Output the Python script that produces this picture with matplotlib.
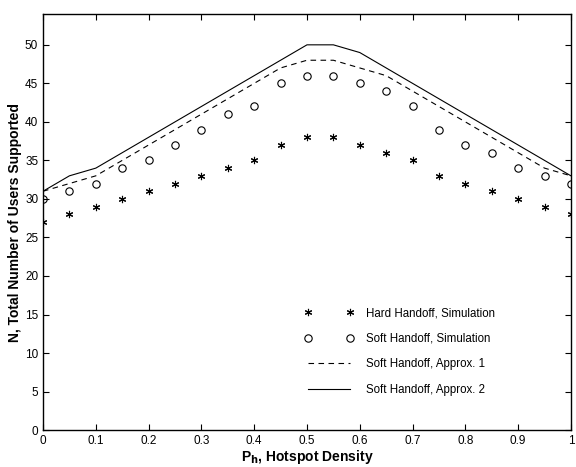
import numpy as np
import matplotlib
matplotlib.use('Agg')
import matplotlib.pyplot as plt

plt.rcParams['font.family'] = ['Liberation Sans', 'DejaVu Sans']

# hotspot density
ph = [0.0, 0.05, 0.1, 0.15, 0.2, 0.25, 0.3, 0.35, 0.4, 0.45, 0.5,
      0.55, 0.6, 0.65, 0.7, 0.75, 0.8, 0.85, 0.9, 0.95, 1.0]

hard_sim = [27, 28, 29, 30, 31, 32, 33, 34, 35, 37, 38,
            38, 37, 36, 35, 33, 32, 31, 30, 29, 28]
soft_sim = [30, 31, 32, 34, 35, 37, 39, 41, 42, 45, 46,
            46, 45, 44, 42, 39, 37, 36, 34, 33, 32]
soft_approx1 = [31, 32, 33, 35, 37, 39, 41, 43, 45, 47, 48,
                48, 47, 46, 44, 42, 40, 38, 36, 34, 33]
soft_approx2 = [31, 33, 34, 36, 38, 40, 42, 44, 46, 48, 50,
                50, 49, 47, 45, 43, 41, 39, 37, 35, 33]

fig = plt.figure(figsize=(5.76, 4.67), dpi=100)
ax = fig.add_axes([0.0747, 0.079, 0.9165, 0.891])

# asterisk marker like matlab '*'
ax.plot(ph, hard_sim, linestyle='none', marker=(6, 2, 0), color='black', markersize=5.2,
        markeredgewidth=0.8, label='Hard Handoff, Simulation')
ax.plot(ph, soft_sim, 'o', color='black', markerfacecolor='none', markersize=5.3,
        markeredgewidth=0.8, label='Soft Handoff, Simulation')
ax.plot(ph, soft_approx1, '--', color='black', linewidth=0.8, dashes=(5, 4),
        label='Soft Handoff, Approx. 1')
ax.plot(ph, soft_approx2, '-', color='black', linewidth=0.8, label='Soft Handoff, Approx. 2')

ax.set_xlim(0, 1)
ax.set_ylim(0, 54)
ax.set_xticks(np.arange(0, 1.01, 0.1))
ax.set_xticklabels(['0', '0.1', '0.2', '0.3', '0.4', '0.5', '0.6', '0.7', '0.8', '0.9', '1'])
ax.set_yticks(range(0, 51, 5))
ax.tick_params(direction='in', top=True, right=True, labelsize=8.5, length=4, width=0.8)
for s in ax.spines.values():
    s.set_linewidth(1.0)

ax.set_xlabel('P$_\\mathbf{h}$, Hotspot Density', fontweight='bold', fontsize=10, labelpad=1)
ax.set_ylabel('N, Total Number of Users Supported', fontweight='bold', fontsize=10, labelpad=2)

ax.legend(loc='upper left', bbox_to_anchor=(0.475, 0.32), frameon=False, numpoints=2,
          handlelength=4.3, fontsize=8.3, labelspacing=1.17, handletextpad=1.1)

fig.savefig('out.png', dpi=100)
